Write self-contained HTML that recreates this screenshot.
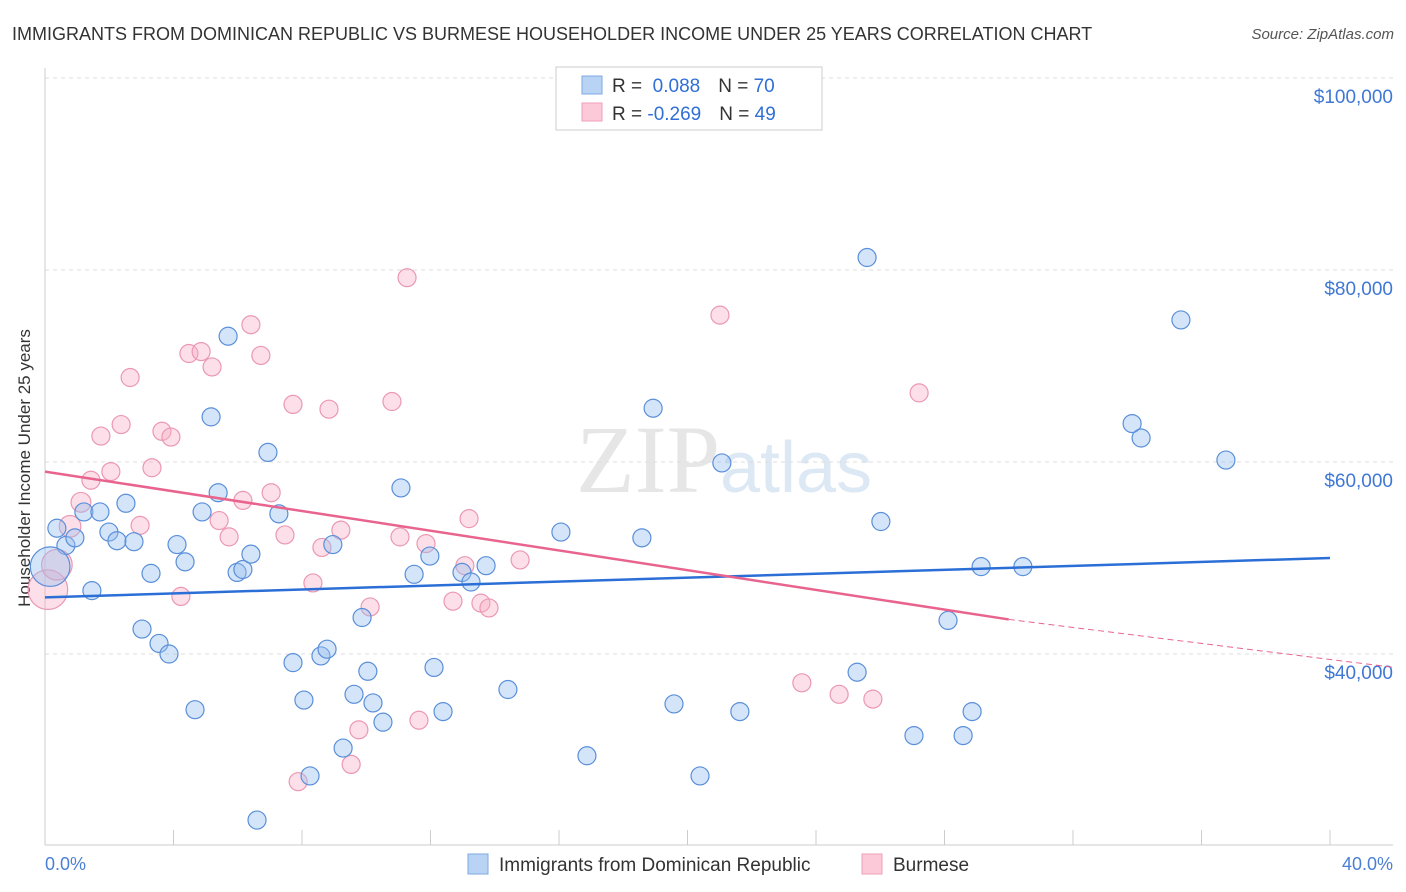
<!DOCTYPE html>
<html><head><meta charset="utf-8"><style>
body{margin:0;background:#fff;font-family:"Liberation Sans",sans-serif}
svg{display:block}
</style></head><body>
<svg width="1406" height="892" xmlns="http://www.w3.org/2000/svg">
<text x="12" y="40" font-size="18" fill="#333">IMMIGRANTS FROM DOMINICAN REPUBLIC VS BURMESE HOUSEHOLDER INCOME UNDER 25 YEARS CORRELATION CHART</text>
<text x="1394" y="39" font-size="15" fill="#555" font-style="italic" text-anchor="end">Source: ZipAtlas.com</text>
<text x="720" y="492" font-size="96" fill="#e6e6e6" text-anchor="end" font-family="Liberation Serif">ZIP</text>
<text x="720" y="492" font-size="72" fill="#dde8f5">atlas</text>
<g id="grid"></g>
<line x1="45" y1="68" x2="45" y2="845" stroke="#ccc"/>
<line x1="45" y1="845" x2="1393" y2="845" stroke="#ccc"/>
<g id="ticks"></g>
<text x="18" y="456" font-size="17" fill="#333" text-anchor="middle" transform="rotate(-90 30 456)">Householder Income Under 25 years</text>
<text x="45" y="870" font-size="18" fill="#4a7fd6">0.0%</text>
<text x="1393" y="870" font-size="18" fill="#4a7fd6" text-anchor="end">40.0%</text>
<g id="pts"></g>
<g id="trends"></g>
<g>
<rect x="556" y="67" width="266" height="63" fill="#fff" stroke="#ccc"/>
<rect x="582" y="76" width="20" height="18" fill="#b9d3f5" stroke="#7fa8e0"/>
<rect x="582" y="103" width="20" height="18" fill="#fbc9d8" stroke="#efa1ba"/>
<text x="612" y="92" font-size="19" fill="#333">R = <tspan fill="#2f6fd6">&#160;0.088</tspan><tspan dx="18">N = </tspan><tspan fill="#2f6fd6">70</tspan></text>
<text x="612" y="120" font-size="19" fill="#333">R = <tspan fill="#2f6fd6">-0.269</tspan><tspan dx="18">N = </tspan><tspan fill="#2f6fd6">49</tspan></text>
</g>
<g>
<rect x="468" y="854" width="20" height="20" fill="#b9d3f5" stroke="#7fa8e0"/>
<text x="499" y="871" font-size="19" fill="#333">Immigrants from Dominican Republic</text>
<rect x="862" y="854" width="20" height="20" fill="#fbc9d8" stroke="#efa1ba"/>
<text x="893" y="871" font-size="19" fill="#333">Burmese</text>
</g>
</svg>
<script>
const yTicks=[100000,80000,60000,40000];
const yTickLabels=["$100,000","$80,000","$60,000","$40,000"];
const xTicks=[0,4,8,12,16,20,24,28,32,36,40];
const blueX=[0.37,0.65,0.93,1.21,1.46,1.71,1.99,2.24,2.52,2.77,3.02,3.30,3.55,3.86,4.11,4.36,4.67,4.89,5.17,5.39,5.70,5.98,6.16,6.41,6.60,6.94,7.28,7.72,8.06,8.25,8.59,8.78,8.96,9.28,9.62,9.87,10.05,10.21,10.52,11.08,11.49,11.98,12.11,12.39,12.98,13.26,13.73,14.41,16.06,16.87,18.58,18.93,19.58,20.39,21.07,21.63,25.28,25.59,26.02,27.05,28.11,28.58,28.86,29.14,30.44,33.84,34.12,35.36,36.76,0.16];
const blueY=[53.1,51.3,52.1,54.8,46.6,54.8,52.7,51.8,55.7,51.7,42.6,48.4,41.1,40.0,51.4,49.6,34.2,54.8,64.7,56.8,73.1,48.5,48.8,50.4,22.7,61.0,54.6,39.1,35.2,27.3,39.8,40.5,51.4,30.2,35.8,43.8,38.2,34.9,32.9,57.3,48.3,50.2,38.6,34.0,48.5,47.5,49.2,36.3,52.7,29.4,52.1,65.6,34.8,27.3,59.9,34.0,38.1,81.3,53.8,31.5,43.5,31.5,34.0,49.1,49.1,64.0,62.5,74.8,60.2,49.1];
const blueSize=[1,1,1,1,1,1,1,1,1,1,1,1,1,1,1,1,1,1,1,1,1,1,1,1,1,1,1,1,1,1,1,1,1,1,1,1,1,1,1,1,1,1,1,1,1,1,1,1,1,1,1,1,1,1,1,1,1,1,1,1,1,1,1,1,1,1,1,1,1,2.2];
const pinkX=[0.09,0.37,0.78,1.12,1.43,1.74,2.05,2.37,2.65,2.96,3.33,3.64,3.92,4.23,4.48,4.86,5.20,5.42,5.73,6.16,6.41,6.72,7.04,7.47,7.72,7.88,8.34,8.62,8.84,9.21,9.53,9.77,10.12,10.80,11.05,11.27,11.64,11.86,12.70,13.07,13.20,13.57,13.82,14.79,21.01,23.56,24.72,25.77,27.21];
const pinkY=[46.7,49.3,53.3,55.8,58.1,62.7,59.0,63.9,68.8,53.4,59.4,63.2,62.6,46.0,71.3,71.5,69.9,53.9,52.2,56.0,74.3,71.1,56.8,52.4,66.0,26.7,47.4,51.1,65.5,52.9,28.5,32.1,44.9,66.3,52.2,79.2,33.1,51.5,45.5,49.2,54.1,45.3,44.8,49.8,75.3,37.0,35.8,35.3,67.2];
const pinkSize=[2.2,1.7,1.2,1.1,1,1,1,1,1,1,1,1,1,1,1,1,1,1,1,1,1,1,1,1,1,1,1,1,1,1,1,1,1,1,1,1,1,1,1,1,1,1,1,1,1,1,1,1,1];
const blueTrendX=[0,40];const blueTrendY=[45.9,50.0];
const pinkTrendX=[0,30];const pinkTrendY=[59.0,43.6];
const pinkDashX=[30,42];const pinkDashY=[43.6,38.6];
const NS="http://www.w3.org/2000/svg";
const sx=v=>45+v*32.125;
const sy=v=>78+(100-v)*9.6;
function mk(t,a,parent){const e=document.createElementNS(NS,t);for(const k in a)e.setAttribute(k,a[k]);parent.appendChild(e);return e;}
const grid=document.getElementById('grid');
yTicks.forEach((t,i)=>{const y=sy(t/1000);
const l=mk('line',{x1:45,x2:1393,y1:y,y2:y,stroke:'#ddd','stroke-dasharray':'4,4'},grid);


const tx=mk('text',{x:1393,y:y+25,'font-size':19,fill:'#3f78d4','text-anchor':'end'},grid);
tx.textContent=yTickLabels[i];

});
const tk=document.getElementById('ticks');
xTicks.forEach(t=>{const l=mk('line',{x1:sx(t),x2:sx(t),y1:830,y2:845,stroke:'#ccc'},tk);

});
const pts=document.getElementById('pts');
pinkX.forEach((x,i)=>{const c=mk('circle',{cx:sx(x),cy:sy(pinkY[i]),r:9*pinkSize[i],fill:'rgba(248,175,198,0.4)',stroke:'#eb98b3','stroke-width':1.2},pts);

});
blueX.forEach((x,i)=>{const c=mk('circle',{cx:sx(x),cy:sy(blueY[i]),r:9*blueSize[i],fill:'rgba(150,190,240,0.4)',stroke:'#5a8fd9','stroke-width':1.2},pts);

});
const tr=document.getElementById('trends');
let l1=mk('line',{x1:sx(blueTrendX[0]),y1:sy(blueTrendY[0]),x2:sx(blueTrendX[1]),y2:sy(blueTrendY[1]),stroke:'#2b6fd6','stroke-width':2.5},tr);


let l2=mk('line',{x1:sx(pinkTrendX[0]),y1:sy(pinkTrendY[0]),x2:sx(pinkTrendX[1]),y2:sy(pinkTrendY[1]),stroke:'#e8648e','stroke-width':2.5},tr);


let l3=mk('line',{x1:sx(pinkDashX[0]),y1:sy(pinkDashY[0]),x2:sx(pinkDashX[1]),y2:sy(pinkDashY[1]),stroke:'#e8648e','stroke-width':1,'stroke-dasharray':'6,4'},tr);


</script>
</body></html>
